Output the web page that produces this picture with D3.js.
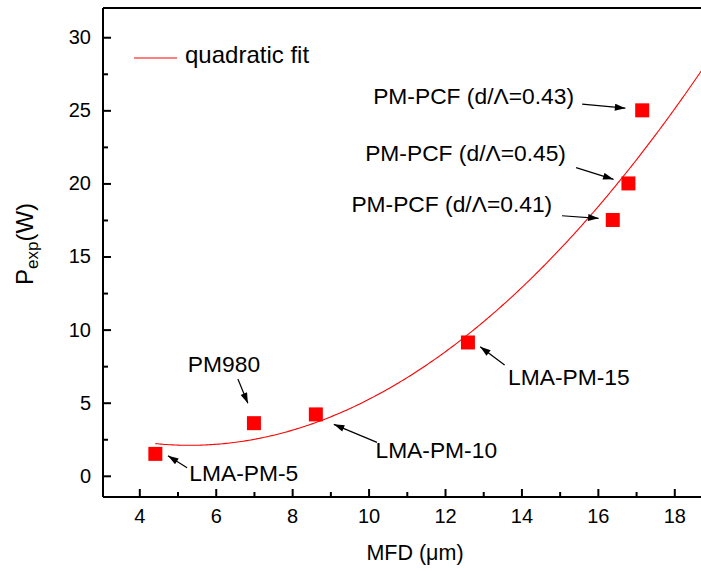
<!DOCTYPE html>
<html>
<head>
<meta charset="utf-8">
<script src="https://cdn.jsdelivr.net/npm/d3@7"></script>
<style>
  body { margin: 0; background: #fff; }
  text { font-family: "Liberation Sans", Arial, sans-serif; fill: #000; }
</style>
</head>
<body>
<div id="chart"></div>
<script>
// measured points, MFD (um) vs P_exp (W)
var names = ["LMA-PM-5", "PM980", "LMA-PM-10", "LMA-PM-15", "PM-PCF (d/\u039B=0.41)", "PM-PCF (d/\u039B=0.45)", "PM-PCF (d/\u039B=0.43)"];
var mfd   = [4.42, 7.0, 8.62, 12.6, 16.39, 16.8, 17.16];
var power = [1.5, 3.6, 4.2, 9.12, 17.5, 20.0, 25.0];

// quadratic fit coefficients, P = a*x^2 + b*x + c
var fitA = 0.1428, fitB = -1.518, fitC = 6.12;

var xTicks = [4, 6, 8, 10, 12, 14, 16, 18];
var xMinor = [5, 7, 9, 11, 13, 15, 17];
var yTicks = [0, 5, 10, 15, 20, 25, 30];
var yMinor = [2.5, 7.5, 12.5, 17.5, 22.5, 27.5];

// label placement (data units): text anchor, arrow start, arrow end
var notes = [
  {t: names[0], tx: 5.31, ty: -0.36, x1: 5.25, y1: 0.55, x2: 4.75, y2: 1.37},
  {t: names[1], tx: 5.27, ty: 7.10, x1: 6.58, y1: 6.62, x2: 6.84, y2: 4.96},
  {t: names[2], tx: 10.18, ty: 1.24, x1: 10.22, y1: 2.29, x2: 9.09, y2: 3.52},
  {t: names[3], tx: 13.65, ty: 6.21, x1: 13.56, y1: 7.58, x2: 12.92, y2: 8.83},
  {t: names[4], tx: 9.55, ty: 18.05, x1: 15.06, y1: 17.79, x2: 16.02, y2: 17.61},
  {t: names[5], tx: 9.91, ty: 21.53, x1: 15.43, y1: 21.08, x2: 16.41, y2: 20.28},
  {t: names[6], tx: 10.12, ty: 25.42, x1: 15.59, y1: 25.42, x2: 16.72, y2: 25.15}
];

(function(){
  var width = 701, height = 571;
  var pl = 103, pr = 719, pt = 8, pb = 497;

  var svg = d3.select("#chart").append("svg")
    .attr("width", width)
    .attr("height", height);

  var x = d3.scaleLinear().domain([3.05, 19.17]).range([pl, pr]);
  var y = d3.scaleLinear().domain([-1.45, 32]).range([pb, pt]);

  var defs = svg.append("defs");
  defs.append("clipPath").attr("id", "clip")
    .append("rect").attr("x", pl).attr("y", pt)
    .attr("width", pr - pl).attr("height", pb - pt);

  defs.append("marker")
    .attr("id", "head")
    .attr("viewBox", "0 0 12 8")
    .attr("refX", 12).attr("refY", 4)
    .attr("markerWidth", 12).attr("markerHeight", 7)
    .attr("markerUnits", "userSpaceOnUse")
    .attr("orient", "auto")
    .append("path").attr("d", "M0,0 L12,4 L0,8 Z").attr("fill", "#000");

  // fit curve
  var fitPts = d3.range(4.42, 19.2, 0.05).map(function(v){
    return [v, fitA * v * v + fitB * v + fitC];
  });
  svg.append("path")
    .datum(fitPts)
    .attr("clip-path", "url(#clip)")
    .attr("fill", "none")
    .attr("stroke", "#ff0000")
    .attr("stroke-width", 1.1)
    .attr("d", d3.line().x(function(d){ return x(d[0]); }).y(function(d){ return y(d[1]); }));

  // top border
  svg.append("line").attr("x1", pl).attr("x2", pr).attr("y1", pt).attr("y2", pt)
    .attr("stroke", "#000").attr("stroke-width", 2);

  var xAxis = svg.append("g").attr("transform", "translate(0," + pb + ")")
    .call(d3.axisBottom(x).tickValues(xTicks).tickSize(-8).tickFormat(d3.format("d")));
  var xAxisMinor = svg.append("g").attr("transform", "translate(0," + pb + ")")
    .call(d3.axisBottom(x).tickValues(xMinor).tickSize(-5).tickFormat(""));
  var yAxis = svg.append("g").attr("transform", "translate(" + pl + ",0)")
    .call(d3.axisLeft(y).tickValues(yTicks).tickSize(-8).tickFormat(d3.format("d")));
  var yAxisMinor = svg.append("g").attr("transform", "translate(" + pl + ",0)")
    .call(d3.axisLeft(y).tickValues(yMinor).tickSize(-5).tickFormat(""));

  [xAxis, xAxisMinor].forEach(function(g){
    g.select(".domain").attr("stroke", "#000").attr("stroke-width", 2).attr("d", "M" + pl + ",0H" + pr);
  });
  [yAxis, yAxisMinor].forEach(function(g){
    g.select(".domain").attr("stroke", "#000").attr("stroke-width", 2).attr("d", "M0," + pt + "V" + pb);
  });
  [xAxis, xAxisMinor, yAxis, yAxisMinor].forEach(function(g){
    g.selectAll(".tick line").attr("stroke", "#000").attr("stroke-width", 2);
  });
  xAxis.selectAll(".tick text")
    .attr("y", 12).attr("dy", "0.71em")
    .style("font-size", "20px").style("font-family", "'Liberation Sans', Arial, sans-serif").attr("fill", "#000");
  yAxis.selectAll(".tick text")
    .attr("x", -12)
    .style("font-size", "20px").style("font-family", "'Liberation Sans', Arial, sans-serif").attr("fill", "#000");

  // axis titles
  svg.append("text")
    .attr("x", 415).attr("y", 560)
    .attr("text-anchor", "middle")
    .style("font-size", "21.5px")
    .text("MFD (\u03BCm)");

  var yt = svg.append("text")
    .attr("transform", "translate(33,244) rotate(-90)")
    .attr("text-anchor", "middle")
    .style("font-size", "24px");
  yt.append("tspan").text("P");
  yt.append("tspan").attr("dy", 5).style("font-size", "17px").text("exp");
  yt.append("tspan").attr("dy", -5).text("(W)");

  // legend
  svg.append("line")
    .attr("x1", 134).attr("x2", 177).attr("y1", 58).attr("y2", 58)
    .attr("stroke", "#ff0000").attr("stroke-width", 1.1);
  svg.append("text")
    .attr("x", 185).attr("y", 63)
    .style("font-size", "24px")
    .text("quadratic fit");

  // points
  svg.selectAll(".pt")
    .data(mfd)
    .enter().append("rect")
    .attr("class", "pt")
    .attr("x", function(d){ return x(d) - 7; })
    .attr("y", function(d, i){ return y(power[i]) - 7; })
    .attr("width", 14)
    .attr("height", 14)
    .attr("fill", "#ff0000");

  // annotations
  var ann = svg.selectAll(".note").data(notes).enter().append("g").attr("class", "note");
  ann.append("text")
    .attr("x", function(d){ return x(d.tx); })
    .attr("y", function(d){ return y(d.ty); })
    .style("font-size", "22.8px")
    .text(function(d){ return d.t; });
  ann.append("line")
    .attr("x1", function(d){ return x(d.x1); })
    .attr("y1", function(d){ return y(d.y1); })
    .attr("x2", function(d){ return x(d.x2); })
    .attr("y2", function(d){ return y(d.y2); })
    .attr("stroke", "#000")
    .attr("stroke-width", 1.2)
    .attr("marker-end", "url(#head)");
})();
</script>
</body>
</html>
